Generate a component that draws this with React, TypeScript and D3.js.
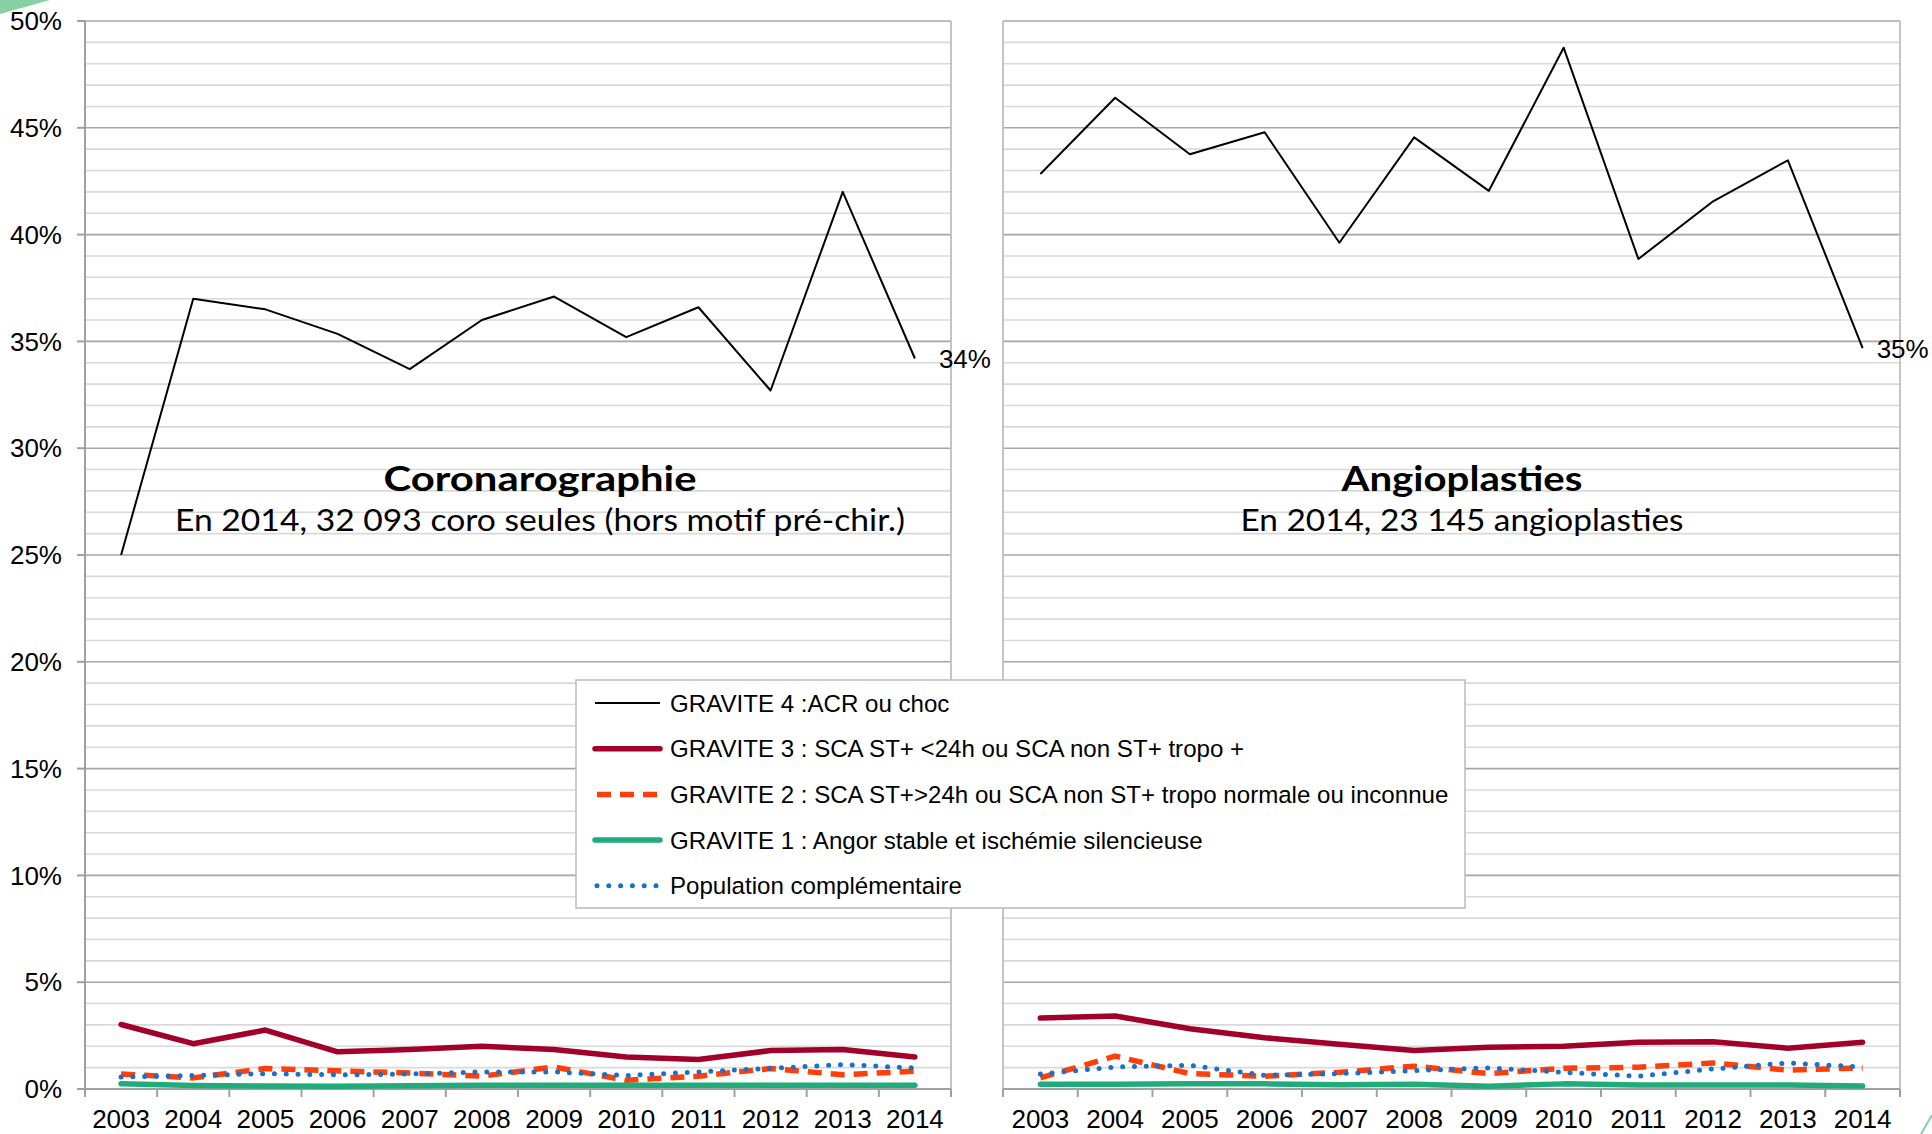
import React from 'react';
import * as d3 from 'd3';

const years = ['2003', '2004', '2005', '2006', '2007', '2008', '2009', '2010', '2011', '2012', '2013', '2014'];

// Coronarographie (%)
const coroG4 = [25.0, 37.0, 36.5, 35.35, 33.7, 36.0, 37.1, 35.2, 36.6, 32.7, 42.0, 34.2];
const coroG3 = [3.02, 2.12, 2.76, 1.74, 1.85, 2.0, 1.85, 1.5, 1.38, 1.8, 1.85, 1.5];
const coroG2 = [0.7, 0.52, 0.96, 0.85, 0.75, 0.6, 1.03, 0.41, 0.6, 0.96, 0.67, 0.83];
const coroG1 = [0.25, 0.16, 0.14, 0.13, 0.15, 0.17, 0.17, 0.17, 0.17, 0.17, 0.17, 0.17];
const coroPop = [0.56, 0.63, 0.72, 0.66, 0.7, 0.8, 0.8, 0.63, 0.8, 0.97, 1.14, 0.99];

// Angioplasties (%)
const angioG4 = [42.84, 46.41, 43.76, 44.79, 39.62, 44.55, 42.05, 48.75, 38.86, 41.56, 43.48, 34.68];
const angioG3 = [3.32, 3.42, 2.82, 2.4, 2.1, 1.8, 1.96, 2.0, 2.19, 2.21, 1.91, 2.19];
const angioG2 = [0.52, 1.54, 0.72, 0.6, 0.78, 1.07, 0.72, 0.97, 1.02, 1.22, 0.88, 0.99];
const angioG1 = [0.22, 0.22, 0.24, 0.24, 0.2, 0.22, 0.13, 0.24, 0.19, 0.19, 0.19, 0.14];
const angioPop = [0.7, 1.03, 1.11, 0.64, 0.72, 0.86, 0.99, 0.78, 0.6, 0.94, 1.22, 1.03];

const majorTicks = [0, 5, 10, 15, 20, 25, 30, 35, 40, 45, 50];
const minorTicks = d3.range(0, 51, 1);

const seriesNames = [
  'GRAVITE 4 :ACR ou choc',
  'GRAVITE 3 : SCA ST+ <24h ou SCA non ST+ tropo +',
  'GRAVITE 2 : SCA ST+>24h ou SCA non ST+ tropo normale ou inconnue',
  'GRAVITE 1 : Angor stable et ischémie silencieuse',
  'Population complémentaire',
];

const endLabels = ['34%', '35%'];
const titles = ['Coronarographie', 'Angioplasties'];
const subtitles = ['En 2014, 32 093 coro seules (hors motif pré-chir.)', 'En 2014, 23 145 angioplasties'];

const styles = [
  { color: '#000000', width: 2, dash: undefined as string | undefined, cap: 'butt' },
  { color: '#a0002a', width: 5.5, dash: undefined, cap: 'round' },
  { color: '#ff3f0a', width: 5.5, dash: '14 9', cap: 'butt' },
  { color: '#1fab7a', width: 5.5, dash: undefined, cap: 'round' },
  { color: '#1a6fc9', width: 5, dash: '0 11.8', cap: 'round' },
];

const W = 1932;
const H = 1134;
const Y_TOP = 21;
const Y_BOT = 1089;
const FONT = "'Liberation Sans', Arial, sans-serif";
const TITLE_FONT = "Lato, 'DejaVu Sans', sans-serif";

const y = d3.scaleLinear().domain([0, 50]).range([Y_BOT, Y_TOP]);

type PanelProps = {
  x0: number;
  x1: number;
  series: number[][];
  title: string;
  subtitle: string;
  titleX: number;
  titleW: number;
  subW: number;
  showY: boolean;
  endLabel: string;
  endDx: number;
  leftColor: string;
};

function Panel(p: PanelProps) {
  const band = d3.scaleBand().domain(years).range([p.x0, p.x1]);
  const xp = d3.scalePoint().domain(years).range([p.x0, p.x1]).padding(0.5);
  const line = d3
    .line<number>()
    .x((_, i) => xp(years[i]) as number)
    .y((d) => y(d));
  const last = p.series[0][p.series[0].length - 1];
  const boundaries = years.map((yr) => band(yr) as number).concat([p.x1]);
  return (
    <g>
      {minorTicks
        .filter((t) => t % 5 !== 0)
        .map((t) => (
          <line key={'mi' + t} x1={p.x0} x2={p.x1} y1={y(t)} y2={y(t)} stroke="#d9d9d9" strokeWidth={1.6} />
        ))}
      {majorTicks
        .filter((t) => t !== 0)
        .map((t) => (
          <line key={'ma' + t} x1={p.x0} x2={p.x1} y1={y(t)} y2={y(t)} stroke="#a6a6a6" strokeWidth={1.6} />
        ))}
      <line x1={p.x1} x2={p.x1} y1={Y_TOP} y2={Y_BOT} stroke="#c4c4c4" strokeWidth={2} />
      <line x1={p.x0} x2={p.x0} y1={Y_TOP} y2={Y_BOT + 8} stroke={p.leftColor} strokeWidth={2} />
      <line x1={p.x0} x2={p.x1} y1={Y_BOT} y2={Y_BOT} stroke="#a0a0a0" strokeWidth={2} />
      {boundaries.map((bx, i) => (
        <line key={'xt' + i} x1={bx} x2={bx} y1={Y_BOT} y2={Y_BOT + 8} stroke="#a0a0a0" strokeWidth={2} />
      ))}
      {p.showY &&
        majorTicks.map((t) => (
          <g key={'yl' + t}>
            <line x1={p.x0 - 8} x2={p.x0} y1={y(t)} y2={y(t)} stroke="#a0a0a0" strokeWidth={2} />
            <text x={p.x0 - 23} y={y(t)} dy="0.35em" textAnchor="end" fontFamily={FONT} fontSize={26} fill="#000">
              {t + '%'}
            </text>
          </g>
        ))}
      {years.map((yr) => (
        <text key={'xl' + yr} x={xp(yr)} y={1128} textAnchor="middle" fontFamily={FONT} fontSize={26} fill="#000">
          {yr}
        </text>
      ))}
      <text
        x={p.titleX}
        y={491}
        textAnchor="middle"
        fontFamily={TITLE_FONT}
        fontWeight="bold"
        fontSize={35}
        textLength={p.titleW}
        lengthAdjust="spacingAndGlyphs"
        fill="#000"
      >
        {p.title}
      </text>
      <text
        x={p.titleX}
        y={531}
        textAnchor="middle"
        fontFamily={TITLE_FONT}
        fontSize={31}
        textLength={p.subW}
        lengthAdjust="spacingAndGlyphs"
        fill="#000"
      >
        {p.subtitle}
      </text>
      {p.series.map((s, i) => (
        <path
          key={'s' + i}
          d={line(s) as string}
          fill="none"
          stroke={styles[i].color}
          strokeWidth={styles[i].width}
          strokeDasharray={styles[i].dash}
          strokeLinecap={styles[i].cap as any}
          strokeLinejoin="round"
        />
      ))}
      <text
        x={(xp(years[years.length - 1]) as number) + p.endDx}
        y={y(last)}
        dy="0.36em"
        fontFamily={FONT}
        fontSize={26}
        fill="#000"
      >
        {p.endLabel}
      </text>
    </g>
  );
}

function Legend() {
  const lx = 576;
  const ly = 680;
  const lw = 889;
  const lh = 228;
  const rowY = (i: number) => 703 + i * 45.7;
  return (
    <g>
      <rect x={lx} y={ly} width={lw} height={lh} fill="#ffffff" stroke="#bfbfbf" strokeWidth={1.6} />
      {seriesNames.map((name, i) => (
        <g key={'lg' + i}>
          <line
            x1={i === 2 || i === 4 ? 597 : 595}
            x2={660}
            y1={rowY(i)}
            y2={rowY(i)}
            stroke={styles[i].color}
            strokeWidth={styles[i].width}
            strokeDasharray={styles[i].dash}
            strokeLinecap={styles[i].cap as any}
          />
          <text x={670} y={rowY(i)} dy="0.36em" fontFamily={FONT} fontSize={24.1} fill="#000">
            {name}
          </text>
        </g>
      ))}
    </g>
  );
}

export default function App() {
  return (
    <svg
      width={W}
      height={H}
      viewBox={`0 0 ${W} ${H}`}
      style={{ position: 'absolute', left: 0, top: 0, background: '#ffffff' }}
    >
      <rect x={0} y={0} width={W} height={H} fill="#ffffff" />
      <polygon points="0,0 50,0 0,14" fill="#86d0a4" />
      <line x1={1921} y1={1134} x2={1932} y2={1115} stroke="#86d0a4" strokeWidth={2} />
      <Panel
        x0={85}
        x1={951}
        series={[coroG4, coroG3, coroG2, coroG1, coroPop]}
        title={titles[0]}
        subtitle={subtitles[0]}
        titleX={540}
        titleW={313}
        subW={730}
        showY={true}
        endLabel={endLabels[0]}
        endDx={24}
        leftColor="#a0a0a0"
      />
      <Panel
        x0={1003}
        x1={1900}
        series={[angioG4, angioG3, angioG2, angioG1, angioPop]}
        title={titles[1]}
        subtitle={subtitles[1]}
        titleX={1462}
        titleW={241}
        subW={443}
        showY={false}
        endLabel={endLabels[1]}
        endDx={14}
        leftColor="#c4c4c4"
      />
      <Legend />
    </svg>
  );
}
